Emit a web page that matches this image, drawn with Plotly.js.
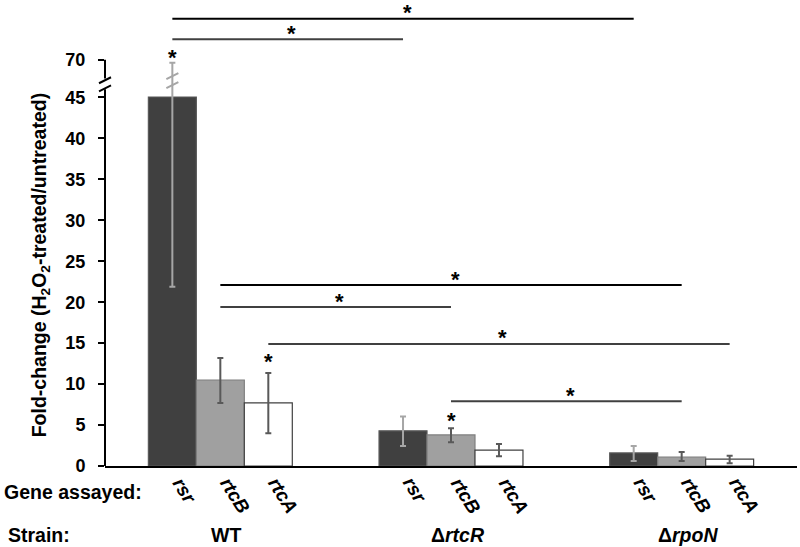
<!DOCTYPE html>
<html>
<head>
<meta charset="utf-8">
<script src="https://cdn.plot.ly/plotly-3.0.1.min.js"></script>
<style>
  body { margin: 0; background: #fff; }
  #chart { width: 800px; height: 547px; }
</style>
</head>
<body>
<div id="chart"></div>
<script>
// strains on the x axis, genes inside each group
var strains = ['WT', 'Δ<i>rtcR</i>', 'Δ<i>rpoN</i>'];
var genes = ['rsr', 'rtcB', 'rtcA'];

// fold-change means and error bars
var rsrMean  = [45.3, 4.3, 1.6];
var rsrPlus  = [22.7, 1.75, 0.85];
var rsrMinus = [23.4, 1.85, 1.0];

var rtcBMean  = [10.5, 3.8, 1.1];
var rtcBPlus  = [2.7, 0.8, 0.6];
var rtcBMinus = [2.8, 0.9, 0.5];

var rtcAMean  = [7.7, 1.95, 0.85];
var rtcAPlus  = [3.65, 0.75, 0.4];
var rtcAMinus = [3.7, 0.75, 0.5];

var yTicks = [0, 5, 10, 15, 20, 25, 30, 35, 40, 45, 70];

// significance brackets: [group, gene, group, gene, height]
var sigBrackets = [
  [0, 1, 2, 1, 22.1],
  [0, 1, 1, 1, 19.4],
  [0, 2, 2, 2, 14.9],
  [1, 1, 2, 1, 7.9],
  [0, 0, 2, 0, 54.6],
  [0, 0, 1, 0, 52.1]
];
// single stars over bars: [group, gene, height]
var sigSingle = [
  [0, 0, 50.4],
  [0, 2, 13.2],
  [1, 1, 6.0]
];

// broken axis: everything above 45 is squeezed
var BRK = 45, SQ = 0.184;
function brk(v) { return v <= BRK ? v : BRK + (v - BRK) * SQ; }

var BARGAP = 0.376;
var BW = (1 - BARGAP) / 3;
function pos(g, j) { return g + (j - 1) * BW; }

var FONT = 'Liberation Sans, Arial, sans-serif';
var xs = [0, 1, 2];

function barTrace(name, mean, plus, minus, fill, edge, errColor) {
  return {
    type: 'bar',
    name: name,
    x: xs,
    y: mean.map(brk),
    marker: { color: fill, line: { color: edge, width: 1.2 } },
    error_y: {
      type: 'data',
      symmetric: false,
      array: mean.map(function (m, i) { return brk(m + plus[i]) - brk(m); }),
      arrayminus: mean.map(function (m, i) { return brk(m) - brk(m - minus[i]); }),
      color: errColor,
      thickness: 2,
      width: 3
    },
    hoverinfo: 'skip'
  };
}

var data = [
  barTrace('rsr', rsrMean, rsrPlus, rsrMinus, '#404040', '#595959', '#a6a6a6'),
  barTrace('rtcB', rtcBMean, rtcBPlus, rtcBMinus, '#a0a0a0', '#7f7f7f', '#595959'),
  barTrace('rtcA', rtcAMean, rtcAPlus, rtcAMinus, '#ffffff', '#404040', '#595959')
];

var shapes = [
  // y axis drawn in two pieces round the break
  { type: 'line', xref: 'paper', yref: 'y', x0: 0, x1: 0, y0: 0, y1: 46.0,
    line: { color: '#000', width: 2 } },
  { type: 'line', xref: 'paper', yref: 'y', x0: 0, x1: 0, y0: 47.3, y1: brk(70),
    line: { color: '#000', width: 2 } }
];
[46.1, 47.1].forEach(function (yy) {
  shapes.push({ type: 'line', xref: 'paper', yref: 'y', xsizemode: 'pixel', ysizemode: 'pixel',
    xanchor: 0, yanchor: yy, x0: -6, x1: 6, y0: -3, y1: 3,
    line: { color: '#000', width: 2 } });
});
[46.5, 47.6].forEach(function (yy) {
  shapes.push({ type: 'line', xref: 'x', yref: 'y', xsizemode: 'pixel', ysizemode: 'pixel',
    xanchor: pos(0, 0), yanchor: yy, x0: -6, x1: 6, y0: -3, y1: 3,
    line: { color: '#a6a6a6', width: 2 } });
});

var annotations = [];
sigBrackets.forEach(function (b, k) {
  var xa = pos(b[0], b[1]), xb = pos(b[2], b[3]);
  shapes.push({ type: 'line', xref: 'x', yref: 'y', x0: xa, x1: xb, y0: b[4], y1: b[4],
    line: { color: k === 0 || k === 4 ? '#000' : '#404040', width: 2 } });
  annotations.push({ xref: 'x', yref: 'y', x: (xa + xb) / 2, y: b[4], xshift: 4, yshift: 6,
    xanchor: 'center', yanchor: 'middle', text: '<b>*</b>', showarrow: false,
    font: { family: FONT, size: 22, color: '#000' } });
});
sigSingle.forEach(function (s) {
  annotations.push({ xref: 'x', yref: 'y', x: pos(s[0], s[1]), y: s[2], yshift: -4,
    xanchor: 'center', yanchor: 'middle', text: '<b>*</b>', showarrow: false,
    font: { family: FONT, size: 22, color: '#000' } });
});

// gene labels under every bar
xs.forEach(function (g) {
  genes.forEach(function (gene, j) {
    annotations.push({ xref: 'x', yref: 'paper', x: pos(g, j), y: 0, xanchor: 'left', yanchor: 'top',
      xshift: -7, yshift: -5, textangle: 58, showarrow: false,
      text: '<b><i>' + gene + '</i></b>', font: { family: FONT, size: 19, color: '#000' } });
  });
  annotations.push({ xref: 'x', yref: 'paper', x: g, y: 0, xshift: 6, yshift: -69,
    xanchor: 'center', yanchor: 'middle', showarrow: false,
    text: '<b>' + strains[g] + '</b>', font: { family: FONT, size: 19.5, color: '#000' } });
});

annotations.push({ xref: 'paper', yref: 'paper', x: 0, y: 0, xshift: -103, yshift: -26,
  xanchor: 'left', yanchor: 'middle', showarrow: false,
  text: '<b>Gene assayed:</b>', font: { family: FONT, size: 19.5, color: '#000' } });
annotations.push({ xref: 'paper', yref: 'paper', x: 0, y: 0, xshift: -99, yshift: -69,
  xanchor: 'left', yanchor: 'middle', showarrow: false,
  text: '<b>Strain:</b>', font: { family: FONT, size: 19.5, color: '#000' } });
annotations.push({ xref: 'paper', yref: 'paper', x: 0, y: 0.44, xshift: -65,
  xanchor: 'center', yanchor: 'middle', textangle: -90, showarrow: false,
  text: '<b>Fold-change (H<sub>2</sub>O<sub>2</sub>-treated/untreated)</b>',
  font: { family: FONT, size: 19.5, color: '#000' } });

var layout = {
  width: 800,
  height: 547,
  margin: { l: 105, r: 3, t: 10, b: 81 },
  paper_bgcolor: '#fff',
  plot_bgcolor: '#fff',
  showlegend: false,
  barmode: 'group',
  bargap: BARGAP,
  bargroupgap: 0,
  font: { family: FONT, color: '#000' },
  xaxis: {
    range: [-0.5, 2.5],
    showline: true, linecolor: '#000', linewidth: 2,
    showticklabels: false, ticks: '', showgrid: false, zeroline: false
  },
  yaxis: {
    range: [0, 456 / 8.19],
    showline: false, showgrid: false, zeroline: false,
    ticks: 'outside', ticklen: 6, tickwidth: 2, tickcolor: '#000',
    tickvals: yTicks.map(brk),
    ticktext: yTicks.map(function (t) { return '<b>' + t + '</b>'; }),
    ticklabelstandoff: 9,
    tickfont: { family: FONT, size: 18, color: '#000' }
  },
  shapes: shapes,
  annotations: annotations
};

Plotly.newPlot('chart', data, layout, { displayModeBar: false, staticPlot: true });
</script>
</body>
</html>
